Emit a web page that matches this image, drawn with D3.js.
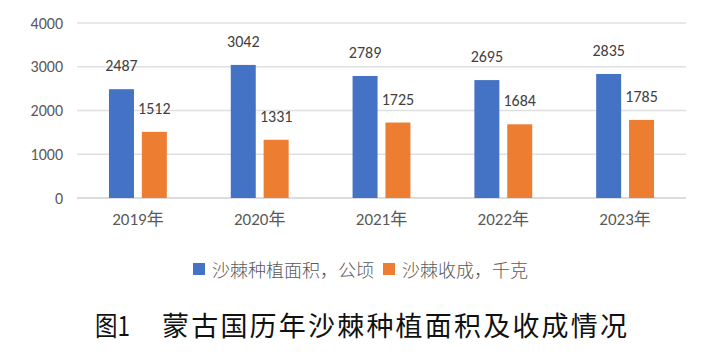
<!DOCTYPE html>
<html>
<head>
<meta charset="utf-8">
<script src="https://cdn.jsdelivr.net/npm/d3@7"></script>
<style>
  body { margin: 0; background: #fff; }
  text { font-family: Carlito, "Liberation Sans", "Noto Sans CJK SC", sans-serif; }
</style>
</head>
<body>
<script>
var years = ["2019年", "2020年", "2021年", "2022年", "2023年"];
var seriesNames = ["沙棘种植面积，公顷", "沙棘收成，千克"];
var area = [2487, 3042, 2789, 2695, 2835];
var harvest = [1512, 1331, 1725, 1684, 1785];
var yTicks = [0, 1000, 2000, 3000, 4000];
var figNo = "图1";
var title = "蒙古国历年沙棘种植面积及收成情况";

function init() {
    var w = 713, h = 354;
    var left = 77, right = 686, top = 23, bottom = 198;
    var colors = ["#4472c4", "#ed7d31"];

    var dataset = years.map(function (y, i) {
        return { year: y, values: [area[i], harvest[i]] };
    });

    var svg = d3.select("body").append("svg")
        .attr("width", w)
        .attr("height", h);

    var x0 = d3.scaleBand()
        .domain(years)
        .range([left, right])
        .paddingInner(0.525)
        .paddingOuter(0.2625);

    var x1 = d3.scaleBand()
        .domain([0, 1])
        .range([0, x0.bandwidth()])
        .paddingInner(0.24);

    var y = d3.scaleLinear()
        .domain([0, 4000])
        .range([bottom, top]);

    // gridlines
    svg.append("g")
        .selectAll("line")
        .data(yTicks)
        .enter()
        .append("line")
        .attr("x1", left)
        .attr("x2", right)
        .attr("y1", function (d) { return y(d); })
        .attr("y2", function (d) { return y(d); })
        .attr("stroke", function (d) { return d === 0 ? "#d0d0d0" : "#e0e0e0"; })
        .attr("stroke-width", 1.5);

    // y axis labels
    var yAxis = d3.axisLeft(y).tickValues(yTicks).tickFormat(d3.format("d"))
        .tickSize(0).tickPadding(14);
    var gy = svg.append("g")
        .attr("transform", "translate(" + left + ",0)")
        .call(yAxis);
    gy.select(".domain").remove();
    gy.selectAll("text")
        .attr("font-size", 16)
        .attr("fill", "#595959");

    // x axis labels
    var xAxis = d3.axisBottom(x0).tickSize(0).tickPadding(15);
    var gx = svg.append("g")
        .attr("transform", "translate(0," + bottom + ")")
        .call(xAxis);
    gx.select(".domain").remove();
    gx.selectAll("text")
        .attr("font-size", 17)
        .attr("fill", "#595959");
    svg.selectAll("g").attr("font-family", null);

    var groups = svg.selectAll("g.grp")
        .data(dataset)
        .enter()
        .append("g")
        .attr("class", "grp")
        .attr("transform", function (d) { return "translate(" + x0(d.year) + ",0)"; });

    groups.selectAll("rect")
        .data(function (d) { return d.values; })
        .enter()
        .append("rect")
        .attr("x", function (d, i) { return x1(i); })
        .attr("y", function (d) { return y(d); })
        .attr("width", x1.bandwidth())
        .attr("height", function (d) { return y(0) - y(d); })
        .attr("fill", function (d, i) { return colors[i]; });

    groups.selectAll("text.lbl")
        .data(function (d) { return d.values; })
        .enter()
        .append("text")
        .attr("class", "lbl")
        .attr("x", function (d, i) { return x1(i) + x1.bandwidth() / 2; })
        .attr("y", function (d) { return y(d) - 18; })
        .attr("text-anchor", "middle")
        .attr("font-size", 16)
        .attr("fill", "#404040")
        .text(function (d) { return d; });

    // legend
    var legend = svg.append("g");
    var lx = [193, 383];
    seriesNames.forEach(function (name, i) {
        legend.append("rect")
            .attr("x", lx[i])
            .attr("y", 263)
            .attr("width", 12)
            .attr("height", 12)
            .attr("fill", colors[i]);
        legend.append("text")
            .attr("x", lx[i] + 19)
            .attr("y", 277)
            .attr("font-size", 18)
            .attr("fill", "#595959")
            .style("font-family", "'Noto Sans CJK SC', sans-serif")
            .style("font-weight", 300)
            .text(name);
    });

    // caption
    svg.append("text")
        .attr("x", 95)
        .attr("y", 336)
        .attr("font-size", 27)
        .attr("fill", "#111")
        .attr("textLength", 35)
        .attr("lengthAdjust", "spacingAndGlyphs")
        .style("font-family", "'Noto Sans CJK SC', sans-serif")
        .text(figNo);
    svg.append("text")
        .attr("x", 162)
        .attr("y", 336)
        .attr("font-size", 27)
        .attr("textLength", 465)
        .attr("lengthAdjust", "spacing")
        .attr("fill", "#111")
        .style("font-family", "'Noto Sans CJK SC', sans-serif")
        .text(title);
}

window.onload = init;
</script>
</body>
</html>
